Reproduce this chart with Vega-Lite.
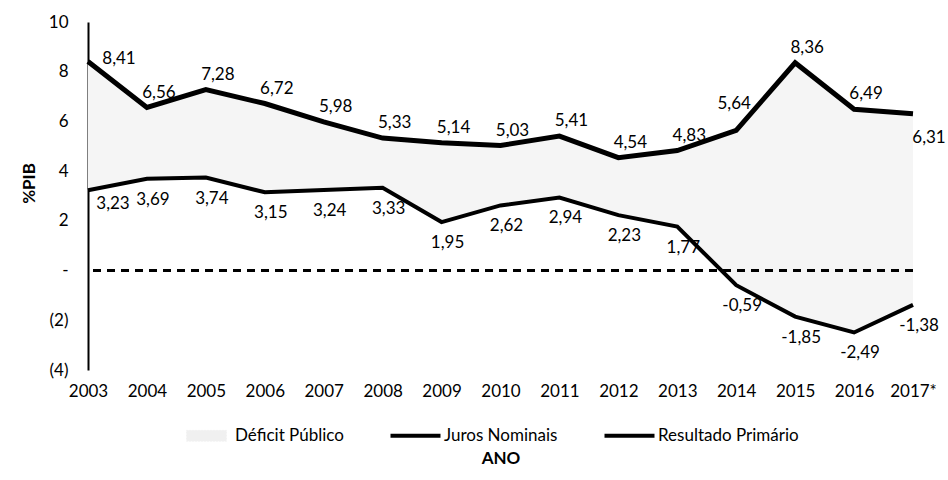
{
  "$schema": "https://vega.github.io/schema/vega-lite/v6.json",
  "width": 825,
  "height": 348,
  "autosize": {"type": "none"},
  "padding": {"left": 88, "top": 22, "right": 35, "bottom": 110},
  "background": "white",
  "config": {
    "font": "Lato",
    "view": {"stroke": null},
    "locale": {"number": {"decimal": ",", "thousands": ".", "grouping": [3], "currency": ["R$", ""], "minus": "-"}},
    "axis": {"grid": false, "labelFont": "Lato", "labelFontSize": 17, "labelColor": "#000", "titleFont": "Lato", "titleFontSize": 17, "titleFontWeight": "bold", "titleColor": "#000"},
    "text": {"font": "Lato", "fontSize": 17, "color": "#000"}
  },
  "data": {"values": [
    {"ano": "2003", "Juros Nominais": 8.41, "Resultado Primário": 3.23},
    {"ano": "2004", "Juros Nominais": 6.56, "Resultado Primário": 3.69},
    {"ano": "2005", "Juros Nominais": 7.28, "Resultado Primário": 3.74},
    {"ano": "2006", "Juros Nominais": 6.72, "Resultado Primário": 3.15},
    {"ano": "2007", "Juros Nominais": 5.98, "Resultado Primário": 3.24},
    {"ano": "2008", "Juros Nominais": 5.33, "Resultado Primário": 3.33},
    {"ano": "2009", "Juros Nominais": 5.14, "Resultado Primário": 1.95},
    {"ano": "2010", "Juros Nominais": 5.03, "Resultado Primário": 2.62},
    {"ano": "2011", "Juros Nominais": 5.41, "Resultado Primário": 2.94},
    {"ano": "2012", "Juros Nominais": 4.54, "Resultado Primário": 2.23},
    {"ano": "2013", "Juros Nominais": 4.83, "Resultado Primário": 1.77},
    {"ano": "2014", "Juros Nominais": 5.64, "Resultado Primário": -0.59},
    {"ano": "2015", "Juros Nominais": 8.36, "Resultado Primário": -1.85},
    {"ano": "2016", "Juros Nominais": 6.49, "Resultado Primário": -2.49},
    {"ano": "2017*", "Juros Nominais": 6.31, "Resultado Primário": -1.38}
  ]},
  "encoding": {
    "x": {
      "field": "ano", "type": "ordinal", "sort": null,
      "scale": {"type": "point", "padding": 0},
      "axis": {"title": "ANO", "labelAngle": 0, "domain": false, "ticks": false, "labelPadding": 13, "titleY": 80, "titleBaseline": "top"}
    }
  },
  "layer": [
    {
      "mark": {"type": "area", "fill": "#f5f5f5"},
      "encoding": {
        "y": {
          "field": "Juros Nominais", "type": "quantitative",
          "scale": {"domain": [-4, 10], "nice": false, "zero": false},
          "axis": {
            "title": "%PIB", "values": [-4, -2, 0, 2, 4, 6, 8, 10],
            "labelExpr": "datum.value == 0 ? '-' : (datum.value < 0 ? '(' + abs(datum.value) + ')' : datum.value)",
            "ticks": false, "domainColor": "#000", "domainWidth": 2, "labelPadding": 20,
            "titleX": -50, "titleY": 161, "titleAngle": -90
          }
        },
        "y2": {"field": "Resultado Primário"},
        "color": {
          "datum": "Déficit Público", "type": "nominal",
          "scale": {"domain": ["Déficit Público", "Juros Nominais", "Resultado Primário"], "range": ["#f0f0f0", "#000000", "#000000"]},
          "legend": {
            "title": null, "orient": "none", "direction": "horizontal", "legendX": 110, "legendY": 405,
            "padding": 0, "columnPadding": 38, "symbolSize": 2500, "symbolType": "stroke",
            "labelFont": "Lato", "labelFontSize": 17, "labelColor": "#000", "labelOffset": 20,
            "encode": {
              "symbols": {"update": {
                "shape": {"signal": "datum.value === 'Déficit Público' ? 'M-0.8,-0.22H0.8V0.22H-0.8Z' : 'stroke'"},
                "fill": {"signal": "datum.value === 'Déficit Público' ? '#f0f0f0' : 'transparent'"},
                "stroke": {"signal": "datum.value === 'Déficit Público' ? '#999999' : '#000000'"},
                "strokeWidth": {"signal": "datum.value === 'Déficit Público' ? 1 : 4"},
                "strokeDash": {"signal": "datum.value === 'Déficit Público' ? [1, 2] : [1, 0]"}
              }}
            }
          }
        }
      }
    },
    {
      "mark": {"type": "rule", "strokeDash": [8, 6], "strokeWidth": 2, "color": "#000"},
      "encoding": {"y": {"datum": 0, "type": "quantitative"}, "x": null}
    },
    {
      "mark": {"type": "line", "strokeWidth": 5},
      "encoding": {
        "y": {"field": "Juros Nominais", "type": "quantitative"},
        "color": {"datum": "Juros Nominais", "type": "nominal"}
      }
    },
    {
      "mark": {"type": "line", "strokeWidth": 4},
      "encoding": {
        "y": {"field": "Resultado Primário", "type": "quantitative"},
        "color": {"datum": "Resultado Primário", "type": "nominal"}
      }
    },
    {
      "transform": [{"filter": {"not": {"field": "ano", "oneOf": ["2003", "2014", "2017*"]}}}],
      "mark": {"type": "text", "dx": 12, "dy": -15},
      "encoding": {
        "y": {"field": "Juros Nominais", "type": "quantitative"},
        "text": {"field": "Juros Nominais", "type": "quantitative", "format": ".2f"}
      }
    },
    {
      "transform": [{"filter": {"field": "ano", "equal": "2003"}}],
      "mark": {"type": "text", "dx": 31, "dy": -3},
      "encoding": {
        "y": {"field": "Juros Nominais", "type": "quantitative"},
        "text": {"field": "Juros Nominais", "type": "quantitative", "format": ".2f"}
      }
    },
    {
      "transform": [{"filter": {"field": "ano", "equal": "2014"}}],
      "mark": {"type": "text", "dx": -2, "dy": -26},
      "encoding": {
        "y": {"field": "Juros Nominais", "type": "quantitative"},
        "text": {"field": "Juros Nominais", "type": "quantitative", "format": ".2f"}
      }
    },
    {
      "transform": [{"filter": {"field": "ano", "equal": "2017*"}}],
      "mark": {"type": "text", "dx": 16, "dy": 24},
      "encoding": {
        "y": {"field": "Juros Nominais", "type": "quantitative"},
        "text": {"field": "Juros Nominais", "type": "quantitative", "format": ".2f"}
      }
    },
    {
      "transform": [{"filter": {"field": "ano", "oneOf": ["2003"]}}],
      "mark": {"type": "text", "dx": 25, "dy": 14},
      "encoding": {
        "y": {"field": "Resultado Primário", "type": "quantitative"},
        "text": {"field": "Resultado Primário", "type": "quantitative", "format": ".2f"}
      }
    },
    {
      "transform": [{"filter": {"not": {"field": "ano", "oneOf": ["2003"]}}}],
      "mark": {"type": "text", "dx": 6, "dy": 21},
      "encoding": {
        "y": {"field": "Resultado Primário", "type": "quantitative"},
        "text": {"field": "Resultado Primário", "type": "quantitative", "format": ".2f"}
      }
    }
  ]
}
